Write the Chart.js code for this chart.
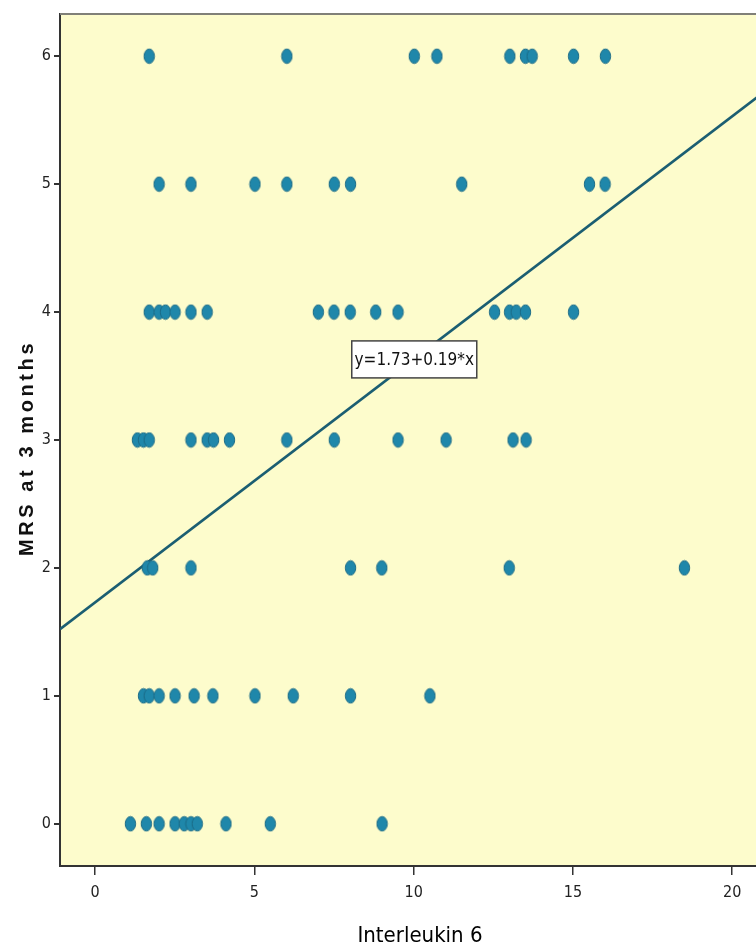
<!DOCTYPE html>
<html>
<head>
<meta charset="utf-8">
<script src="https://cdn.jsdelivr.net/npm/chart.js@4.4.1/dist/chart.umd.min.js"></script>
<style>
html,body{margin:0;padding:0;background:#fff;overflow:hidden;width:756px;height:950px;}
#wrap{position:absolute;left:0;top:0;width:800px;height:950px;}
</style>
</head>
<body>
<div id="wrap"><canvas id="c" width="800" height="950"></canvas></div>
<script>
// ---- data ----
const mrsLevels = [0, 1, 2, 3, 4, 5, 6];
const il6AtMrs0 = [1.11, 1.61, 2.01, 2.51, 2.80, 3.01, 3.21, 4.11, 5.50, 9.01];
const il6AtMrs1 = [1.52, 1.70, 2.01, 2.51, 3.11, 3.70, 5.02, 6.22, 8.02, 10.51];
const il6AtMrs2 = [1.64, 1.81, 3.01, 8.02, 9.00, 13.0, 18.5];
const il6AtMrs3 = [1.33, 1.52, 1.70, 3.01, 3.52, 3.72, 4.22, 6.02, 7.51, 9.51, 11.02, 13.12, 13.53];
const il6AtMrs4 = [1.70, 2.01, 2.21, 2.51, 3.01, 3.52, 7.01, 7.50, 8.01, 8.81, 9.51, 12.54, 13.01, 13.22, 13.51, 15.02];
const il6AtMrs5 = [2.01, 3.01, 5.02, 6.02, 7.51, 8.02, 11.51, 15.52, 16.01];
const il6AtMrs6 = [1.70, 6.02, 10.02, 10.73, 13.02, 13.51, 13.72, 15.02, 16.02];
const fitIntercept = 1.73;
const fitSlope = 0.19;
const fitLabel = 'y=1.73+0.19*x';
const xTickValues = [0, 5, 10, 15, 20];
const yTickValues = [0, 1, 2, 3, 4, 5, 6];
const xTitle = 'Interleukin 6';
const yTitle = 'MRS at 3 months';

const xMin = -1.1, xMax = 21.5, yMin = -0.33, yMax = 6.33;

const groups = [il6AtMrs0, il6AtMrs1, il6AtMrs2, il6AtMrs3, il6AtMrs4, il6AtMrs5, il6AtMrs6];
const points = [];
groups.forEach((arr, i) => arr.forEach(x => points.push({x: x, y: mrsLevels[i]})));
const fitLine = [xMin, xMax].map(x => ({x: x, y: fitIntercept + fitSlope * x}));

// ellipse marker
const mk = document.createElement('canvas');
mk.width = 13; mk.height = 17;
(function(){
  const g = mk.getContext('2d');
  g.beginPath();
  g.ellipse(6.5, 8.5, 5.2, 7.2, 0, 0, Math.PI * 2);
  g.fillStyle = '#1f87aa';
  g.fill();
  g.lineWidth = 1;
  g.strokeStyle = '#1b6a86';
  g.stroke();
})();

const FONT = '"Liberation Sans Narrow", "DejaVu Sans Condensed", "Roboto Condensed", sans-serif';

const framePlugin = {
  id: 'frame',
  beforeDraw(chart) {
    const {ctx, chartArea: a} = chart;
    ctx.save();
    ctx.fillStyle = '#fdfccc';
    ctx.fillRect(a.left, a.top, a.right - a.left, a.bottom - a.top);
    ctx.restore();
  },
  afterDraw(chart) {
    const {ctx, chartArea: a, scales} = chart;
    ctx.save();
    ctx.strokeStyle = '#808078';
    ctx.lineWidth = 2;
    ctx.beginPath();
    ctx.moveTo(a.left, a.top);
    ctx.lineTo(a.right, a.top);
    ctx.stroke();
    // y axis title
    ctx.fillStyle = '#111';
    ctx.font = 'bold 20px "Liberation Sans", Arial, sans-serif';
    if ('letterSpacing' in ctx) ctx.letterSpacing = '3.6px';
    ctx.textAlign = 'center';
    ctx.textBaseline = 'middle';
    ctx.translate(27, 448);
    ctx.rotate(-Math.PI / 2);
    ctx.fillText(yTitle, 0, 0);
    ctx.restore();
    // fit label box
    const px = scales.x.getPixelForValue(10.02);
    const py = scales.y.getPixelForValue(3.63);
    ctx.save();
    ctx.font = '17px ' + FONT;
    const w = 125, h = 37;
    ctx.fillStyle = '#ffffff';
    ctx.fillRect(px - w / 2, py - h / 2, w, h);
    ctx.strokeStyle = '#444';
    ctx.lineWidth = 1.5;
    ctx.strokeRect(px - w / 2, py - h / 2, w, h);
    ctx.fillStyle = '#111';
    ctx.textAlign = 'center';
    ctx.textBaseline = 'middle';
    ctx.fillText(fitLabel, px, py + 1);
    ctx.restore();
  }
};

new Chart(document.getElementById('c'), {
  type: 'scatter',
  data: {
    datasets: [
      {
        type: 'line',
        data: fitLine,
        borderColor: '#1b5e72',
        borderWidth: 2.6,
        pointRadius: 0,
        fill: false,
        order: 2
      },
      {
        data: points,
        pointStyle: mk,
        pointRadius: 6,
        order: 1
      }
    ]
  },
  options: {
    responsive: false,
    animation: false,
    events: [],
    layout: {padding: {top: 14, right: 20, left: 0, bottom: 0}},
    plugins: {legend: {display: false}, tooltip: {enabled: false}},
    scales: {
      x: {
        type: 'linear',
        min: xMin, max: xMax,
        afterBuildTicks(s) { s.ticks = xTickValues.map(v => ({value: v})); },
        afterFit(s) { s.height = 84; },
        grid: {display: true, drawOnChartArea: false, drawTicks: true, tickLength: 9, color: '#333', lineWidth: 1.5},
        border: {display: true, color: '#333', width: 2},
        ticks: {color: '#222', font: {family: FONT, size: 16}, padding: 8},
        title: {display: true, text: xTitle, color: '#000', font: {family: FONT, size: 22}, padding: {top: 0, bottom: 1}}
      },
      y: {
        type: 'linear',
        min: yMin, max: yMax,
        afterBuildTicks(s) { s.ticks = yTickValues.map(v => ({value: v})); },
        afterFit(s) { s.width = 60; },
        grid: {display: true, drawOnChartArea: false, drawTicks: true, tickLength: 6, color: '#333', lineWidth: 2},
        border: {display: true, color: '#333', width: 2},
        ticks: {color: '#222', font: {family: FONT, size: 16}, padding: 3},
        title: {display: false}
      }
    }
  },
  plugins: [framePlugin]
});
</script>
</body>
</html>
